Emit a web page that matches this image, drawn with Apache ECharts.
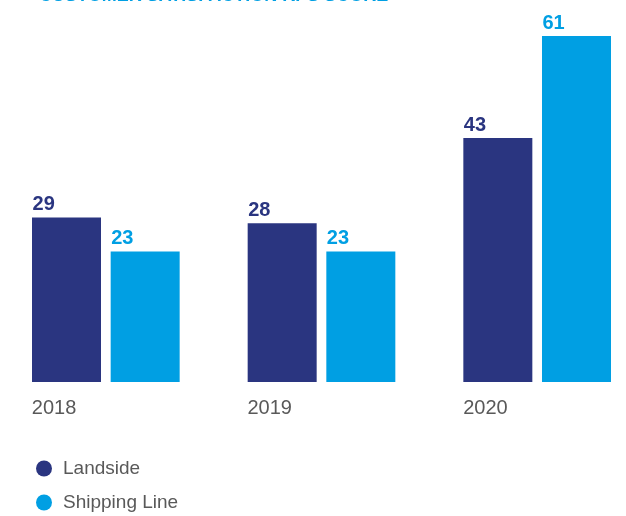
<!DOCTYPE html>
<html><head><meta charset="utf-8">
<script src="https://cdn.jsdelivr.net/npm/echarts@6/dist/echarts.min.js"></script>
<style>html,body{margin:0;padding:0;background:#fff}#c{width:626px;height:516px}</style>
</head><body><div id="c"></div>
<script>
const categories = ['2018', '2019', '2020'];
const landside = [29, 28, 43];
const shippingLine = [23, 23, 61];
const seriesNames = ['Landside', 'Shipping Line'];
const titleText = 'CUSTOMER SATISFACTION KPS SCORE';

const navy = '#2a3580';
const cyan = '#009fe3';
const gray = '#595959';
const font = 'Liberation Sans, Arial, sans-serif';

const legendBase = {
  orient: 'vertical', left: 31,
  icon: 'circle', itemWidth: 16, itemHeight: 16,
  textStyle: {color: gray, fontSize: 19, fontFamily: font, padding: [0, 0, 0, 6]}
};

const chart = echarts.init(document.getElementById('c'), null, {renderer: 'canvas'});
chart.setOption({
  animation: false,
  title: {
    text: titleText, left: 34, top: -18,
    textStyle: {color: cyan, fontSize: 18, fontWeight: 'bold', fontFamily: font}
  },
  legend: [
    Object.assign({}, legendBase, {top: 454, data: [seriesNames[0]]}),
    Object.assign({}, legendBase, {top: 488, data: [seriesNames[1]]})
  ],
  grid: {left: -2, right: -19, top: 36, bottom: 134, outerBoundsMode: 'none', containLabel: false},
  xAxis: {
    type: 'category', data: categories,
    axisLine: {show: false}, axisTick: {show: false},
    axisLabel: {
      margin: 16, color: gray, fontSize: 20, fontFamily: font,
      formatter: v => '{a|' + v + '}',
      rich: {a: {width: 148, align: 'left', color: gray, fontSize: 20, fontFamily: font}}
    }
  },
  yAxis: {type: 'value', min: 0, max: 61, show: false, splitLine: {show: false}},
  series: [
    {
      name: seriesNames[0], type: 'bar', data: landside, barWidth: 69, barGap: '14%',
      itemStyle: {color: navy},
      label: {show: true, position: 'top', distance: 3, color: navy, fontSize: 20, fontWeight: 'bold', fontFamily: font, align: 'left', offset: [-34, 0]}
    },
    {
      name: seriesNames[1], type: 'bar', data: shippingLine, barWidth: 69,
      itemStyle: {color: cyan},
      label: {show: true, position: 'top', distance: 3, color: cyan, fontSize: 20, fontWeight: 'bold', fontFamily: font, align: 'left', offset: [-34, 0]}
    }
  ]
});
</script></body></html>
